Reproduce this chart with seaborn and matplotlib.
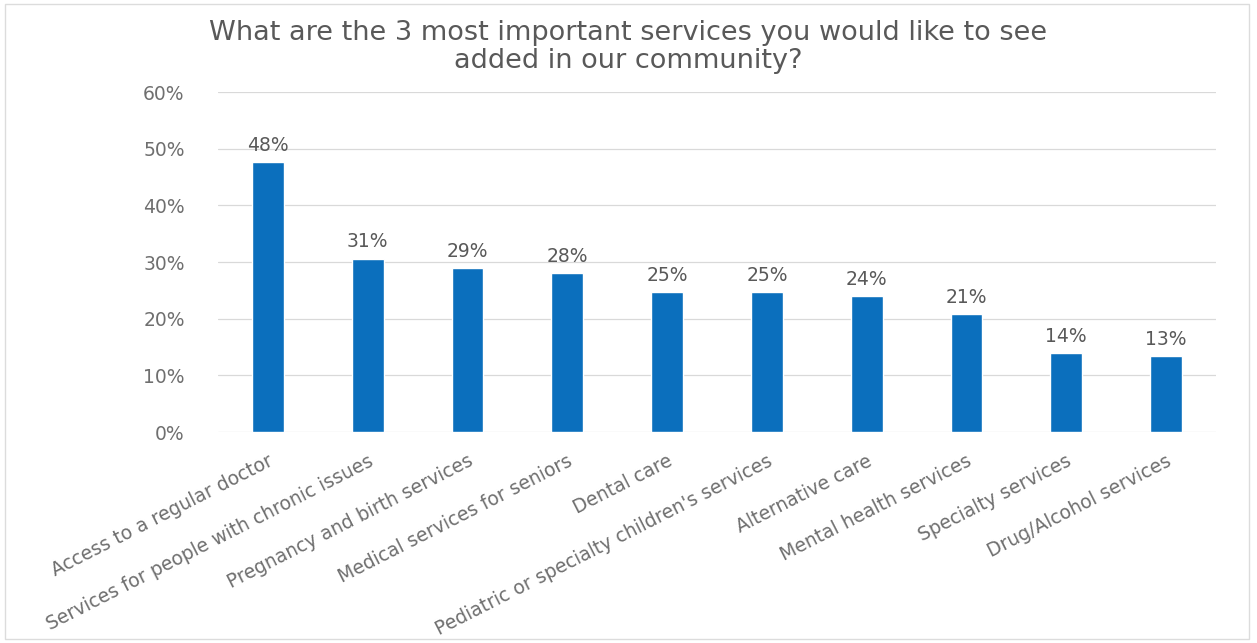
import matplotlib
matplotlib.use("Agg")
import matplotlib.pyplot as plt
import seaborn as sns
import pandas as pd
from matplotlib.patches import Rectangle
from matplotlib.ticker import PercentFormatter

# ---------------------------------------------------------------------
# Data
# ---------------------------------------------------------------------
services = [
    "Access to a regular doctor",
    "Services for people with chronic issues",
    "Pregnancy and birth services",
    "Medical services for seniors",
    "Dental care",
    "Pediatric or specialty children's services",
    "Alternative care",
    "Mental health services",
    "Specialty services",
    "Drug/Alcohol services",
]
share = [47.6, 30.6, 28.9, 28.0, 24.7, 24.7, 24.0, 20.8, 13.9, 13.4]
y_ticks = [0, 10, 20, 30, 40, 50, 60]

title = "What are the 3 most important services you would like to see\nadded in our community?"

# ---------------------------------------------------------------------
# Plot
# ---------------------------------------------------------------------
sns.set_theme(style="white")
plt.rcParams["font.family"] = ["DejaVu Sans"]

text_grey = "#595959"
tick_grey = "#6f6f6f"
bar_blue = "#0b6fbd"

df = pd.DataFrame({"service": services, "share": share})

fig = plt.figure(figsize=(12.57, 6.43), dpi=100)
ax = fig.add_axes([218 / 1257, 1 - 432 / 643, (1216 - 218) / 1257, (432 - 92) / 643])

sns.barplot(data=df, x="service", y="share", color=bar_blue, width=0.32,
            saturation=1, ax=ax)

for i, v in enumerate(share):
    ax.text(i, v + 1.3, f"{round(v)}%", ha="center", va="bottom",
            fontsize=13.5, color=text_grey)

ax.set_ylim(0, 60)
ax.set_yticks(y_ticks)
ax.yaxis.set_major_formatter(PercentFormatter(decimals=0))
ax.tick_params(axis="y", labelsize=13.5, labelcolor=tick_grey, length=0, pad=24)
ax.tick_params(axis="x", labelsize=13.5, labelcolor=tick_grey, length=0, pad=14)
ax.set_xticks(range(len(services)))
ax.set_xticklabels(services, rotation=27, ha="right", rotation_mode="anchor")
ax.set_xlabel("")
ax.set_ylabel("")
ax.grid(axis="y", color="#d9d9d9", linewidth=0.9)
ax.set_axisbelow(True)
for s in ax.spines.values():
    s.set_visible(False)

fig.text(0.5, 1 - 47 / 643, title, ha="center", va="center",
         fontsize=19.5, color=text_grey, linespacing=1.05)

# faint chart-area border
fig.patches.append(Rectangle((0.004, 0.006), 0.99, 0.988, transform=fig.transFigure,
                             fill=False, edgecolor="#dcdcdc", linewidth=1))

fig.savefig("out.png", dpi=100, facecolor="white")
